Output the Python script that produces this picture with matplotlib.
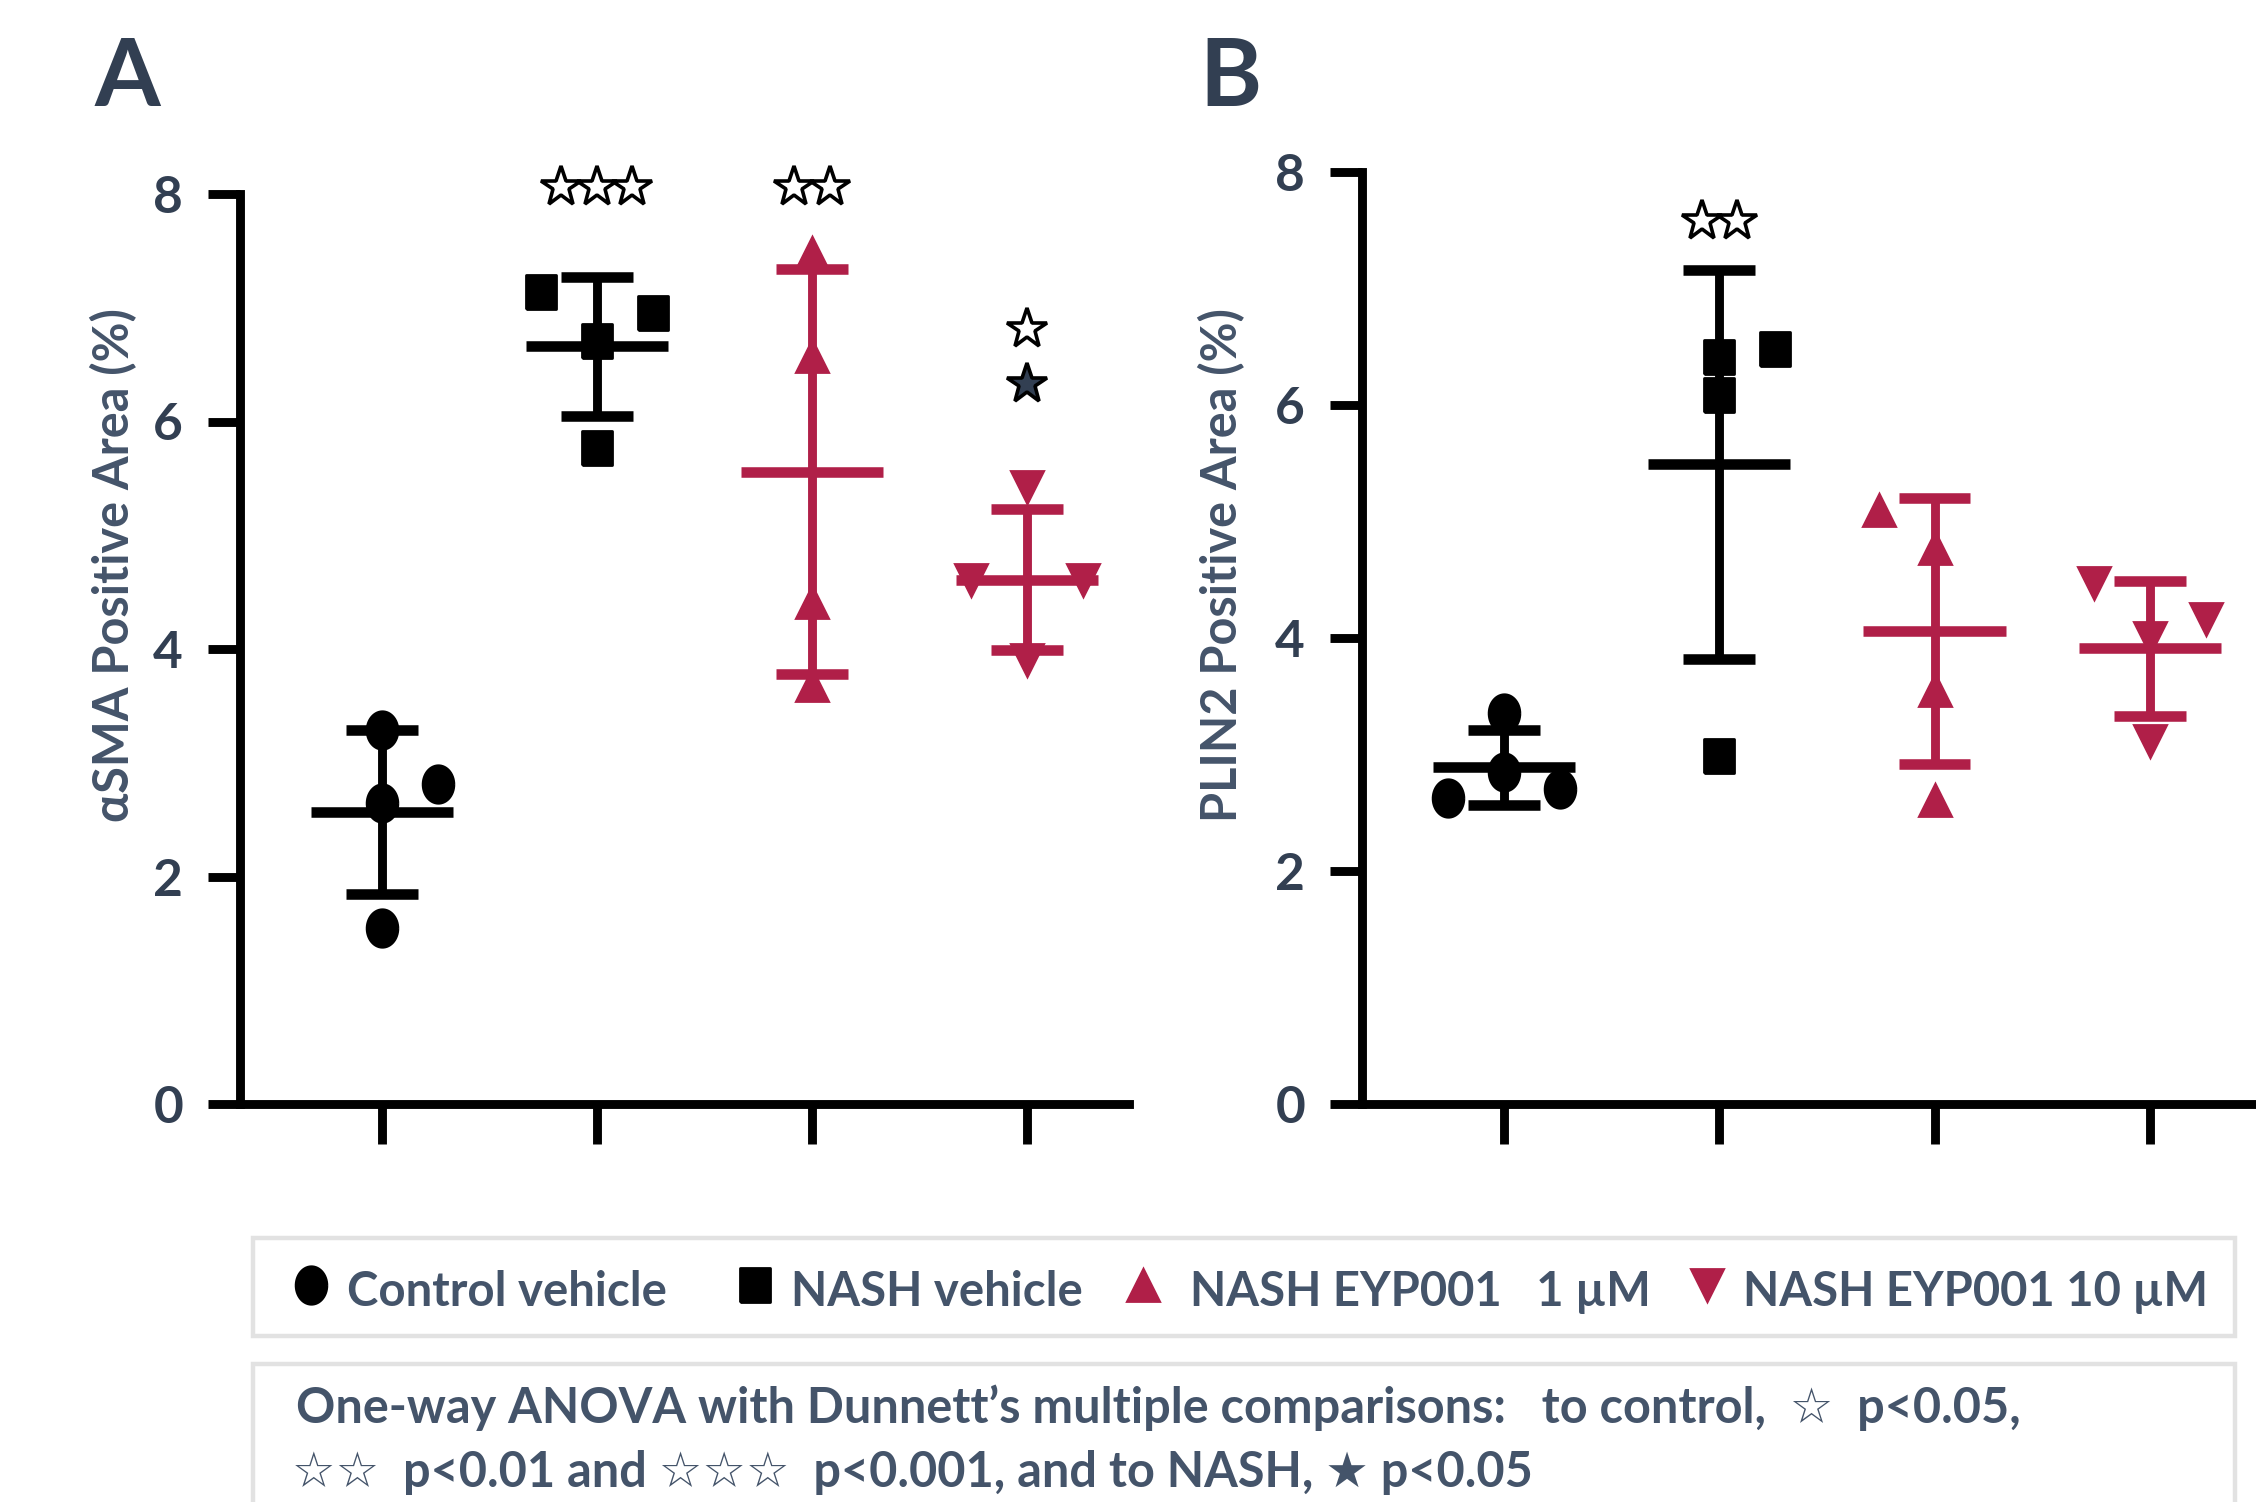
import numpy as np
import matplotlib.pyplot as plt
from matplotlib.lines import Line2D
from matplotlib.patches import Rectangle

plt.rcParams['font.family'] = ['Lato', 'DejaVu Sans']
plt.rcParams['font.weight'] = 'bold'

W, H = 2256, 1502

groups = ['Control vehicle', 'NASH vehicle', 'NASH EYP001   1 µM', 'NASH EYP001 10 µM']
crimson = '#b01f48'
colors = ['black', 'black', crimson, crimson]

# panel A: aSMA positive area (%)
sma_values = [[3.29, 2.65, 2.81, 1.55],
              [7.14, 6.95, 6.71, 5.77],
              [7.48, 6.58, 4.41, 3.68],
              [5.42, 4.61, 4.61, 3.90]]
sma_jitter = [[0, 0, 0.26, 0],
              [-0.26, 0.26, 0, 0],
              [0, 0, 0, 0],
              [0, -0.26, 0.26, 0]]
sma_mean = [2.57, 6.66, 5.56, 4.61]
sma_sd = [0.72, 0.61, 1.78, 0.62]
# (group, number of stars, height, filled)
sma_stars = [(1, 3, 8.06, False), (2, 2, 8.06, False), (3, 1, 6.81, False), (3, 1, 6.33, True)]

# panel B: PLIN2 positive area (%)
plin_values = [[3.36, 2.63, 2.85, 2.70],
               [6.41, 6.09, 6.48, 2.99],
               [5.10, 4.77, 3.55, 2.61],
               [4.47, 4.16, 4.00, 3.12]]
plin_jitter = [[0, -0.26, 0, 0.26],
               [0, 0, 0.26, 0],
               [-0.26, 0, 0, 0],
               [-0.26, 0.26, 0, 0]]
plin_mean = [2.89, 5.49, 4.06, 3.91]
plin_sd = [0.32, 1.67, 1.14, 0.58]
plin_stars = [(1, 2, 7.58, False)]

yticks = [0, 2, 4, 6, 8]

t = np.linspace(0, 2 * np.pi, 60)
ellipse = np.column_stack([0.41 * np.cos(t), 0.5 * np.sin(t)])
rect = [(-0.44, -0.5), (0.44, -0.5), (0.44, 0.5), (-0.44, 0.5), (-0.44, -0.5)]
markers = [ellipse, rect, '^', 'v']
msizes = [13.5, 12.5, 11.5, 11.5]

navy = '#323f52'
slate = '#44546a'

fig = plt.figure(figsize=(W / 200, H / 200), dpi=200)


def panel(rect_ax, values, jitter, mean, sd, stars, ylabel, label, ylab_x, label_x):
    ax = fig.add_axes(rect_ax)
    for i in range(4):
        x = i + np.array(jitter[i])
        ax.hlines(mean[i], i - 0.33, i + 0.33, color=colors[i], lw=3.8, zorder=3)
        ax.hlines([mean[i] - sd[i], mean[i] + sd[i]], i - 0.167, i + 0.167,
                  color=colors[i], lw=3.8, zorder=3)
        ax.vlines(i, mean[i] - sd[i], mean[i] + sd[i], color=colors[i], lw=3.2, zorder=3)
        ax.plot(x, values[i], ls='none', marker=markers[i], ms=msizes[i],
                color=colors[i], mec=colors[i], zorder=4)
    for g, n, y, filled in stars:
        xs = g + (np.arange(n) - (n - 1) / 2) * 0.165
        ax.plot(xs, [y] * n, ls='none', marker='*', ms=15,
                mfc=navy if filled else 'white', mec='black', mew=1.3, clip_on=False, zorder=5)
    ax.set_xlim(-0.66, 3.475)
    ax.set_ylim(0, 8)
    ax.set_xticks(range(4))
    ax.set_yticks(yticks)
    ax.spines['top'].set_visible(False)
    ax.spines['right'].set_visible(False)
    for s in ['left', 'bottom']:
        ax.spines[s].set_linewidth(3.2)
    ax.tick_params(axis='y', length=11.5, width=3.2, labelsize=18.5, labelcolor=navy, pad=9)
    ax.tick_params(axis='x', length=14.5, width=3.2, labelbottom=False)
    fig.text(ylab_x / W, 1 - 565 / H, ylabel, rotation=90, ha='center', va='center',
             fontsize=17.5, color=slate)
    fig.text(label_x / W, 1 - 106 / H, label, ha='left', va='baseline',
             fontsize=34, color=navy)
    return ax


panel([240 / W, 398 / H, 889 / W, 910 / H], sma_values, sma_jitter, sma_mean, sma_sd,
      sma_stars, 'αSMA Positive Area (%)', 'A', 114, 95)
panel([1362 / W, 398 / H, 890 / W, 932 / H], plin_values, plin_jitter, plin_mean, plin_sd,
      plin_stars, 'PLIN2 Positive Area (%)', 'B', 1222, 1199)

# legend box
fig.add_artist(Rectangle((253 / W, 1 - 1336 / H), (2235 - 253) / W, 98 / H,
                         transform=fig.transFigure, fill=False, ec='#e2e2e2', lw=1.6))
marker_x = [311, 755, 1143, 1707]
text_x = [347, 791, 1190, 1743]
for i in range(4):
    fig.add_artist(Line2D([marker_x[i] / W], [1 - 1285 / H], transform=fig.transFigure,
                          ls='none', marker=markers[i], ms=msizes[i], color=colors[i]))
    fig.text(text_x[i] / W, 1 - 1306 / H, groups[i], ha='left', va='baseline',
             fontsize=17, color=slate)

# footnote box
fig.add_artist(Rectangle((253 / W, -0.01), (2235 - 253) / W, 1 - 1364 / H + 0.01,
                         transform=fig.transFigure, fill=False, ec='#e2e2e2', lw=1.6))
fig.text(296 / W, 1 - 1423 / H,
         'One-way ANOVA with Dunnett’s multiple comparisons:   to control,  ☆  p<0.05,',
         ha='left', va='baseline', fontsize=17.5, color=slate)
fig.text(292 / W, 1 - 1487 / H,
         '☆☆  p<0.01 and ☆☆☆  p<0.001, and to NASH, ★ p<0.05',
         ha='left', va='baseline', fontsize=17.5, color=slate)

fig.savefig('out.png', dpi=200)
